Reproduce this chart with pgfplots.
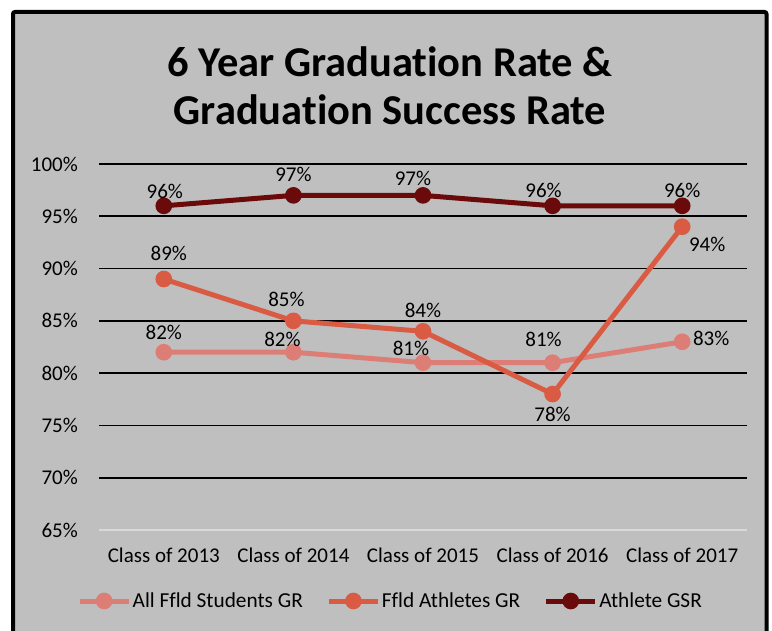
\documentclass[border=0pt]{standalone}
\usepackage{pgfplots}
\usepackage{pgfplotstable}
\pgfplotsset{compat=1.18}
\usepackage{fontspec}
\setmainfont{Carlito}[Ligatures=NoCommon]
\definecolor{bggray}{HTML}{BFBFBF}
\definecolor{clight}{HTML}{DD7E76}
\definecolor{cmid}{HTML}{D95B43}
\definecolor{cdark}{HTML}{6B0A0A}
\definecolor{axgray}{HTML}{D9D9D9}
\newcommand\fs{\fontsize{21}{25}\selectfont}

\pgfplotstableread{
x y dx dy
0 82 0 20
1 82 -11 13
2 81 -12 14
3 81 -9 23
4 83 29 3
}\allstud
\pgfplotstableread{
x y dx dy
0 89 5 26
1 85 -7 21
2 84 0 21
3 78 0 -20
4 94 25 -18
}\athl
\pgfplotstableread{
x y dx dy
0 96 1 14
1 97 0 21
2 97 -10 17
3 96 -9 15
4 96 0 15
}\gsr

\begin{document}
\begin{tikzpicture}[x=1pt,y=1pt]
\useasboundingbox (0,0) rectangle (772,630);
\fill[white] (0,0) rectangle (772,630);
\fill[bggray] (13,-5) rectangle (766.5,618);
\draw[black, line width=4pt, rounded corners=2pt] (13,-5) -- (13,618) -- (766.5,618) -- (766.5,-5);
\node[font=\bfseries\fontsize{42.5}{48}\selectfont, align=center] at (390,630-86) {6 Year Graduation Rate \&\\Graduation Success Rate};
\begin{axis}[
  at={(99pt,100pt)}, anchor=south west,
  scale only axis, width=648pt, height=366pt,
  xmin=-0.5, xmax=4.5, ymin=65, ymax=100,
  xtick={0,1,2,3,4},
  xticklabels={Class of 2013,Class of 2014,Class of 2015,Class of 2016,Class of 2017},
  ytick={70,75,...,100},
  extra y ticks={65},
  extra y tick style={grid=none},
  yticklabel={\pgfmathprintnumber{\tick}\%},
  /pgf/number format/assume math mode=true,
  ymajorgrids,
  major grid style={black, line width=1.7pt},
  major tick length=0pt,
  axis x line*=bottom, axis y line*=left,
  x axis line style={draw=axgray, line width=2pt, -},
  y axis line style={draw=none},
  tick label style={font=\fs},
  yticklabel style={anchor=east, inner sep=0pt, xshift=-21pt},
  xticklabel style={anchor=north, inner sep=0pt, yshift=-18pt},
  clip=false,
  nodes near coords={\pgfmathprintnumber[fixed]{\pgfplotspointmeta}\%},
  point meta=y,
  visualization depends on={\thisrow{dx} \as \dx},
  visualization depends on={\thisrow{dy} \as \dy},
  every node near coord/.append style={font=\fs, text=black, anchor=center, inner sep=0pt, xshift=\dx pt, yshift=\dy pt},
  every axis plot/.append style={line width=5pt, mark=*, mark size=5.8pt},
  legend columns=3,
  legend style={at={(axis description cs:-0.034,-0.194)}, anchor=west, draw=none, fill=none, inner sep=0pt, font=\fontsize{21.3}{25}\selectfont, nodes={inner sep=1.5pt, text=black},
    /tikz/every even column/.append style={column sep=22pt}},
  legend image code/.code={
    \draw[#1, mark=none] (0pt,0pt) -- (49pt,0pt);
    \draw[#1, only marks] plot coordinates {(24.5pt,0pt)};
  },
]
\addplot[color=clight, mark options={solid, fill=clight, draw=none}] table[x=x,y=y] {\allstud};
\addlegendentry{All Ffld Students GR}
\addplot[color=cmid, mark options={solid, fill=cmid, draw=none}] table[x=x,y=y] {\athl};
\addlegendentry{Ffld Athletes GR}
\addplot[color=cdark, mark options={solid, fill=cdark, draw=none}] table[x=x,y=y] {\gsr};
\addlegendentry{Athlete GSR}
\end{axis}
\end{tikzpicture}
\end{document}
